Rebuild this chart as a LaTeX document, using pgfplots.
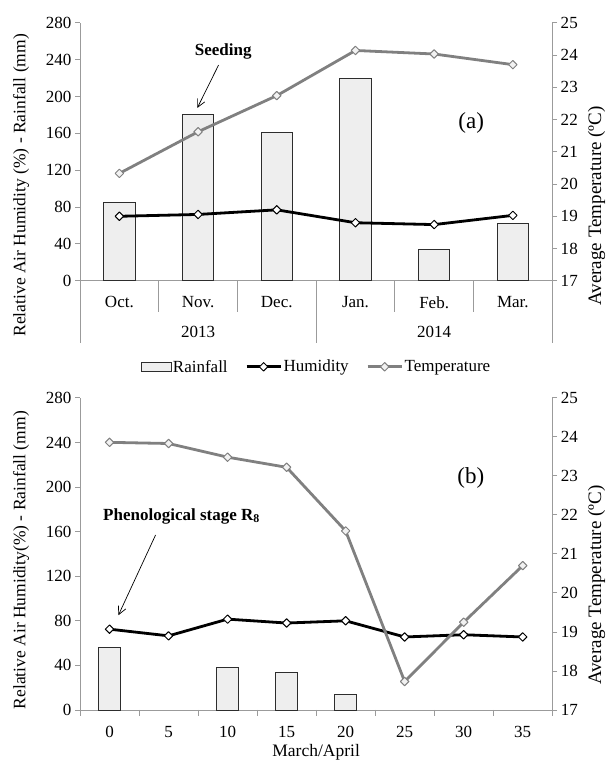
\documentclass[border=0pt]{standalone}
\usepackage{fontspec}
\setmainfont{Liberation Serif}
\usepackage{pgfplots}
\pgfplotsset{compat=1.18}
\usetikzlibrary{arrows.meta}

\definecolor{axgray}{RGB}{155,155,155}
\definecolor{tempgray}{RGB}{128,128,128}
\definecolor{barfill}{RGB}{238,238,238}
\definecolor{baredge}{RGB}{45,45,45}
\definecolor{markfill}{RGB}{242,242,242}

\newcommand\tf{\fontsize{17}{20}\selectfont}
\newcommand\lf{\fontsize{17.5}{20}\selectfont}
\newcommand\rf{\fontsize{19}{21}\selectfont}

\pgfplotsset{
  base/.style={
    width=472pt, scale only axis,
    /pgf/number format/assume math mode=true,
    tick label style={font=\tf},
    label style={font=\lf},
    axis line style={draw=axgray, line width=0.9pt},
    tick style={draw=axgray, line width=0.9pt},
    major tick length=5pt,
    tick align=outside,
    clip=false,
  },
  linelegend/.style={legend image code/.code={\draw[mark repeat=2,mark phase=2,##1] plot coordinates {(0pt,0pt) (17pt,0pt) (34pt,0pt)};}},
  barlegend/.style={legend image code/.code={\draw[fill=barfill,draw=baredge,line width=0.9pt] (0pt,-4.5pt) rectangle (30pt,4.5pt);}},
  hum/.style={black, line width=2.8pt, line join=round, mark=square*, mark size=3pt,
    mark options={rotate=45, fill=white, draw=black, line width=1pt, solid}},
  tmp/.style={tempgray, line width=2.8pt, line join=round, mark=square*, mark size=3pt,
    mark options={rotate=45, fill=markfill, draw=tempgray, line width=1pt, solid}},
  rain/.style={ybar, fill=barfill, draw=baredge, line width=0.9pt, barlegend},
}

\begin{document}
\begin{tikzpicture}
\path[use as bounding box] (-80pt,-480pt) rectangle (530pt,280.7pt);

% ---------------- (a) ----------------
\begin{axis}[base, height=258pt, at={(0pt,0pt)}, anchor=south west,
  xmin=-0.5, xmax=5.5, ymin=0, ymax=280,
  axis y line*=left, axis x line*=bottom,
  ytick={0,40,...,280},
  xtick={0,...,5}, xticklabels={Oct.,Nov.,Dec.,Jan.,Feb.,Mar.},
  major x tick style={draw=none},
  xticklabel style={yshift=-7pt},
  ylabel={Relative Air Humidity (\%) - Rainfall (mm)},
  ylabel style={at={(axis description cs:-0.125,0.37)}, anchor=center},
  legend style={at={(axis description cs:0.5,-0.3333)}, anchor=center, draw=none,
    legend columns=3, font=\tf, inner sep=0pt, nodes={inner sep=1.5pt},
    /tikz/every even column/.append style={column sep=16pt}},
]
\addplot[rain, bar width=0.4] coordinates {(0,85) (1,180) (2,161) (3,220) (4,34) (5,62)};
\addlegendentry{Rainfall}
\addplot[hum, linelegend] coordinates {(0,70) (1,72) (2,77) (3,63) (4,61) (5,71)};
\addlegendentry{Humidity}
\addlegendimage{tmp, linelegend}
\addlegendentry{Temperature}

\draw[axgray, line width=0.9pt] (axis cs:0.5,0) -- ++(0pt,-31pt);
\draw[axgray, line width=0.9pt] (axis cs:1.5,0) -- ++(0pt,-31pt);
\draw[axgray, line width=0.9pt] (axis cs:3.5,0) -- ++(0pt,-31pt);
\draw[axgray, line width=0.9pt] (axis cs:4.5,0) -- ++(0pt,-31pt);
\draw[axgray, line width=0.9pt] (axis cs:-0.5,0) -- ++(0pt,-62pt);
\draw[axgray, line width=0.9pt] (axis cs:2.5,0) -- ++(0pt,-62pt);
\draw[axgray, line width=0.9pt] (axis cs:5.5,0) -- ++(0pt,-62pt);
\node[font=\tf] at (axis cs:1,0) [yshift=-51pt] {2013};
\node[font=\tf] at (axis cs:4,0) [yshift=-51pt] {2014};

\node[font=\bfseries\fontsize{17}{20}\selectfont] at (axis cs:1.32,249) {Seeding};
\draw[-{Straight Barb[length=8pt,width=8pt]}, line width=0.7pt] (axis cs:1.26,234) -- (axis cs:0.99,187.5);
\node[font=\fontsize{23}{26}\selectfont] at (axis cs:4.47,171) {(a)};
\end{axis}

\begin{axis}[base, height=258pt, at={(0pt,0pt)}, anchor=south west,
  xmin=-0.5, xmax=5.5, ymin=17, ymax=25,
  axis y line*=right, axis x line=none,
  ytick={17,...,25},
  ylabel={Average Temperature (ºC)},
  ylabel style={font=\rf, inner sep=0pt, at={(axis description cs:1.094,0.29)}, anchor=center},
]
\addplot[tmp] coordinates {(0,20.33) (1,21.62) (2,22.74) (3,24.14) (4,24.03) (5,23.70)};
\end{axis}

% ---------------- (b) ----------------
\begin{axis}[base, height=312pt, at={(0pt,-429pt)}, anchor=south west,
  xmin=-2.5, xmax=37.5, ymin=0, ymax=280,
  axis y line*=left, axis x line*=bottom,
  ytick={0,40,...,280},
  xtick={0,5,...,35},
  major x tick style={draw=none},
  xticklabel style={yshift=-8pt},
  xlabel={March/April},
  xlabel style={at={(axis description cs:0.5,0)}, yshift=-42pt, anchor=center},
  ylabel={Relative Air Humidity(\%)  - Rainfall (mm)},
  ylabel style={at={(axis description cs:-0.125,0.48)}, anchor=center},
]
\addplot[rain, bar width=1.9] coordinates {(0,56) (10,38) (15,34) (20,14)};
\addplot[hum] coordinates {(0,72.5) (5,66.5) (10,81.5) (15,78) (20,80) (25,65.5) (30,67.5) (35,65.5)};

\draw[axgray, line width=0.9pt] (axis cs:-2.5,0) -- ++(0pt,-6pt);
\draw[axgray, line width=0.9pt] (axis cs:2.5,0) -- ++(0pt,-6pt);
\draw[axgray, line width=0.9pt] (axis cs:7.5,0) -- ++(0pt,-6pt);
\draw[axgray, line width=0.9pt] (axis cs:12.5,0) -- ++(0pt,-6pt);
\draw[axgray, line width=0.9pt] (axis cs:17.5,0) -- ++(0pt,-6pt);
\draw[axgray, line width=0.9pt] (axis cs:22.5,0) -- ++(0pt,-6pt);
\draw[axgray, line width=0.9pt] (axis cs:27.5,0) -- ++(0pt,-6pt);
\draw[axgray, line width=0.9pt] (axis cs:32.5,0) -- ++(0pt,-6pt);
\draw[axgray, line width=0.9pt] (axis cs:37.5,0) -- ++(0pt,-6pt);

\node[font=\bfseries\fontsize{17}{20}\selectfont] at (axis cs:6.1,173.7) {Phenological stage R\textsubscript{8}};
\draw[-{Straight Barb[length=8pt,width=8pt]}, line width=0.7pt] (axis cs:3.9,157) -- (axis cs:0.75,85);
\node[font=\fontsize{23}{26}\selectfont] at (axis cs:30.6,208) {(b)};
\end{axis}

\begin{axis}[base, height=312pt, at={(0pt,-429pt)}, anchor=south west,
  xmin=-2.5, xmax=37.5, ymin=17, ymax=25,
  axis y line*=right, axis x line=none,
  ytick={17,...,25},
  ylabel={Average Temperature (ºC)},
  ylabel style={font=\rf, inner sep=0pt, at={(axis description cs:1.094,0.40)}, anchor=center},
]
\addplot[tmp] coordinates {(0,23.86) (5,23.83) (10,23.48) (15,23.22) (20,21.59) (25,17.73) (30,19.25) (35,20.70)};
\end{axis}
\end{tikzpicture}
\end{document}
